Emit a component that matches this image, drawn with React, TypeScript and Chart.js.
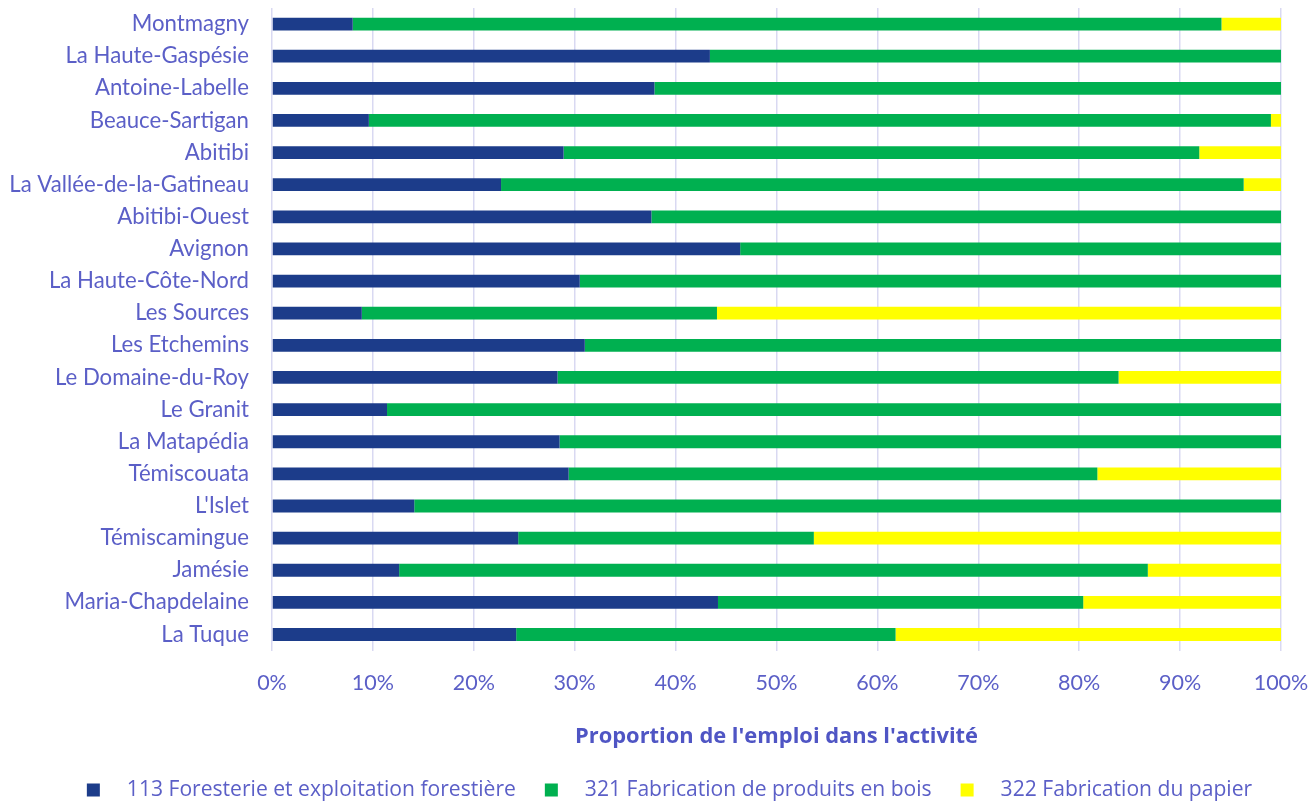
import React, { useEffect, useRef } from "react";
import { Chart, registerables } from "chart.js";

Chart.register(...registerables);

const categories = [
  "Montmagny",
  "La Haute-Gaspésie",
  "Antoine-Labelle",
  "Beauce-Sartigan",
  "Abitibi",
  "La Vallée-de-la-Gatineau",
  "Abitibi-Ouest",
  "Avignon",
  "La Haute-Côte-Nord",
  "Les Sources",
  "Les Etchemins",
  "Le Domaine-du-Roy",
  "Le Granit",
  "La Matapédia",
  "Témiscouata",
  "L'Islet",
  "Témiscamingue",
  "Jamésie",
  "Maria-Chapdelaine",
  "La Tuque",
];

const foresterie = [8.0, 43.4, 37.9, 9.6, 28.9, 22.7, 37.6, 46.4, 30.5, 8.9, 31.0, 28.3, 11.4, 28.5, 29.4, 14.1, 24.4, 12.6, 44.2, 24.2];
const bois = [86.1, 56.6, 62.1, 89.4, 63.0, 73.6, 62.4, 53.6, 69.5, 35.2, 69.0, 55.6, 88.6, 71.5, 52.4, 85.9, 29.3, 74.2, 36.2, 37.6];
const papier = [5.9, 0, 0, 1.0, 8.1, 3.7, 0, 0, 0, 55.9, 0, 16.1, 0, 0, 18.2, 0, 46.3, 13.2, 19.6, 38.2];

const seriesNames = [
  "113 Foresterie et exploitation forestière",
  "321 Fabrication de produits en bois",
  "322 Fabrication du papier",
];
const seriesColors = ["#1C3C8A", "#00B050", "#FFFF00"];

const xTicks = [0, 10, 20, 30, 40, 50, 60, 70, 80, 90, 100];
const axisTitle = "Proportion de l'emploi dans l'activité";

const FONT = "Lato, 'Noto Sans', sans-serif";
const FONT2 = "'Open Sans', 'Noto Sans', sans-serif";
const TEXT = "#5B5FC7";
const TRANSPARENT = "rgba(0,0,0,0)";

const legendShift = {
  id: "legendShift",
  afterLayout(chart: any) {
    const lg = chart.legend;
    if (!lg || !lg.lineWidths) return;
    const pad = lg.options.labels.padding;
    const start = (lg.left + pad + lg.right - lg.lineWidths[0]) / 2;
    const visible = lg.lineWidths[0] - pad;
    const target = 669.5 - visible / 2;
    const d = target - start;
    lg.left += d;
    lg.right += d;
  },
};

export default function App() {
  const ref = useRef<HTMLCanvasElement | null>(null);

  useEffect(() => {
    document.body.style.margin = "0";
    const canvas = ref.current;
    if (!canvas) return;
    const chart = new Chart(canvas, {
      type: "bar",
      data: {
        labels: categories,
        datasets: [foresterie, bois, papier].map((d, i) => ({
          label: "   " + seriesNames[i],
          data: d,
          backgroundColor: seriesColors[i],
          borderWidth: 0,
          barPercentage: 0.4,
          categoryPercentage: 1,
        })),
      },
      plugins: [legendShift],
      options: {
        indexAxis: "y",
        animation: false,
        responsive: true,
        maintainAspectRatio: false,
        layout: { padding: { top: 8, right: 29, left: 0, bottom: -8.55 } },
        plugins: {
          tooltip: { enabled: false },
          legend: {
            position: "bottom",
            labels: {
              boxWidth: 13,
              boxHeight: 13,
              padding: 29,
              color: TEXT,
              font: { family: FONT2, size: 21.1 },
            },
          },
        },
        scales: {
          x: {
            stacked: true,
            min: 0,
            max: 100,
            afterBuildTicks: (scale: any) => {
              scale.ticks = xTicks.map((v) => ({ value: v }));
            },
            ticks: {
              padding: 0,
              color: TEXT,
              font: { family: FONT, size: 21.5 },
              callback: (v: any) => v + "%",
            },
            grid: {
              color: "#D9D9F2",
              lineWidth: 1.5,
              drawTicks: true,
              tickLength: 19.5,
              tickColor: TRANSPARENT,
            },
            border: { display: false },
            title: {
              display: true,
              text: axisTitle,
              color: "#4F55C4",
              font: { family: FONT2, size: 21.9, weight: "bold" },
              padding: { top: 28.05, bottom: 0.3 },
            },
          },
          y: {
            stacked: true,
            afterFit: (scale: any) => {
              scale.width = 272;
            },
            ticks: {
              padding: 0,
              color: TEXT,
              font: { family: FONT, size: 22.2, lineHeight: 0.5 },
            },
            grid: {
              display: true,
              drawOnChartArea: false,
              drawTicks: true,
              tickLength: 23,
              tickColor: TRANSPARENT,
              color: TRANSPARENT,
            },
            border: { display: false },
          },
        },
      },
    });
    return () => chart.destroy();
  }, []);

  return (
    <div style={{ width: 1310, height: 802, position: "relative" }}>
      <canvas ref={ref} style={{ display: "block" }} />
    </div>
  );
}
